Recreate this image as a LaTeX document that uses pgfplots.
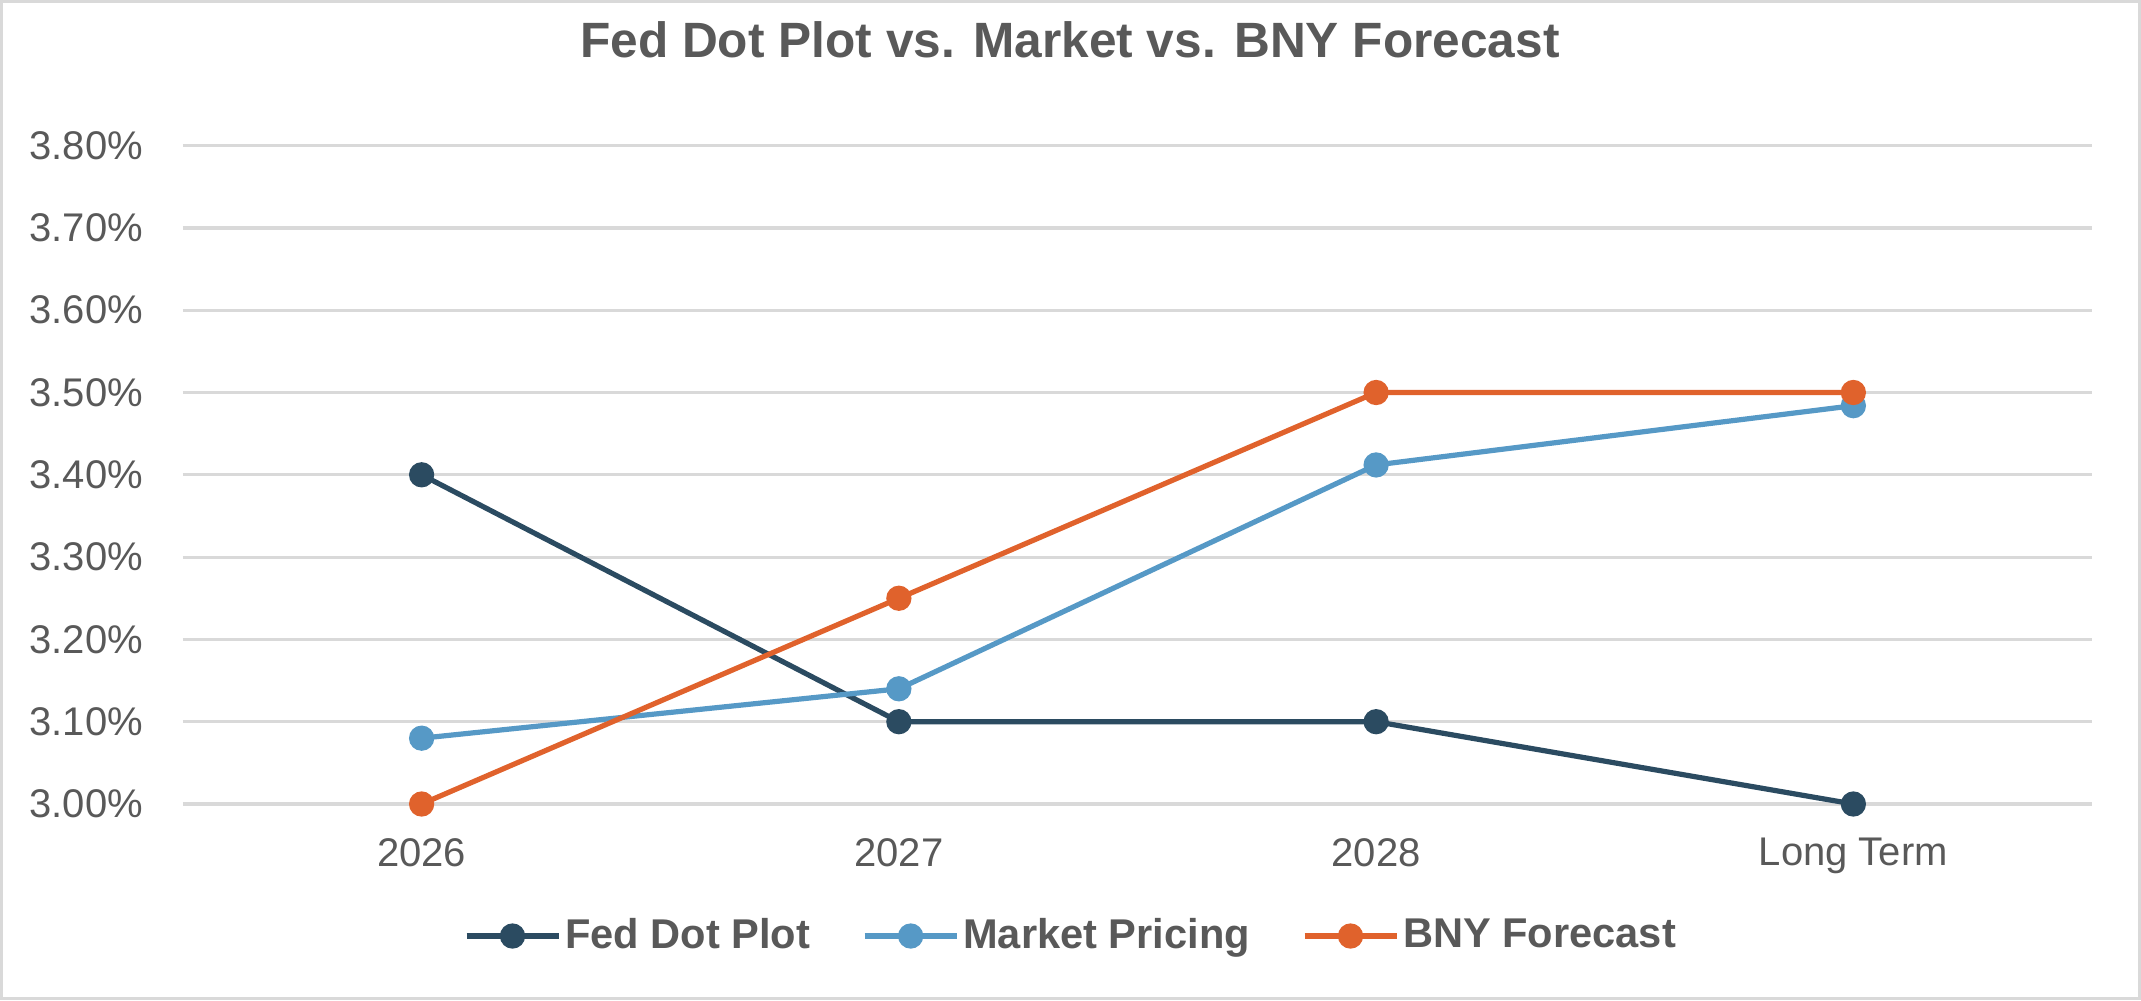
\documentclass[border=0pt]{standalone}
\usepackage{fontspec}
\setmainfont{Liberation Sans}
\usepackage{pgfplots}
\pgfplotsset{compat=1.18}

\definecolor{fedc}{HTML}{2B4B61}
\definecolor{mktc}{HTML}{5699C6}
\definecolor{bnyc}{HTML}{E0622C}
\definecolor{txtc}{HTML}{595959}
\definecolor{gridc}{HTML}{D9D9D9}

\begin{document}
\begin{tikzpicture}
\path[use as bounding box] (-45.75pt,-49pt) rectangle (489.5pt,201pt);
\draw[gridc, line width=0.8pt] (-45.35pt,-48.6pt) rectangle (489.1pt,200.6pt);
\begin{axis}[
    at={(0pt,0pt)}, anchor=south west,
    scale only axis,
    width=477.25pt, height=164.6pt,
    xmin=-0.5, xmax=3.5,
    ymin=3.0, ymax=3.8,
    xtick={0,1,2,3},
    xticklabels={2026,2027,2028,Long Term},
    ytick={3.0,3.1,3.2,3.3,3.4,3.5,3.6,3.7,3.8},
    yticklabel={\pgfmathprintnumber[fixed,fixed zerofill,precision=2]{\tick}\%},
    /pgf/number format/assume math mode=true,
    axis line style={draw=none},
    major tick length=0pt,
    ymajorgrids=true,
    grid style={gridc, line width=0.8pt},
    ticklabel style={font=\fontsize{10}{12}\selectfont, text=txtc},
    yticklabel style={xshift=-6.5pt},
    xticklabel style={yshift=-5pt},
    title={Fed Dot Plot vs. Market vs. BNY Forecast},
    title style={font=\fontsize{12.4}{14}\selectfont\bfseries, text=txtc,
        at={(0.5,1)}, anchor=center, xshift=-16.9pt, yshift=20.4pt},
    legend columns=3,
    legend style={draw=none, at={(0.4667,-0.2005)}, anchor=center,
        font=\fontsize{10.4}{12}\selectfont\bfseries, text=txtc,
        /tikz/every even column/.append style={column sep=11pt},
        /tikz/every odd column/.append style={column sep=-1pt},
        inner sep=0pt},
    legend image code/.code={%
        \draw[#1, mark repeat=2, mark phase=2] plot coordinates {(0pt,0pt) (11.5pt,0pt) (23pt,0pt)};},
    every axis plot/.append style={line width=1.3pt, mark=*, mark size=2.5pt},
    clip=false,
]
\addplot[fedc, mark options={fill=fedc}] coordinates {(0,3.40) (1,3.10) (2,3.10) (3,3.00)};
\addlegendentry{Fed Dot Plot}
\addplot[mktc, mark options={fill=mktc}] coordinates {(0,3.08) (1,3.14) (2,3.412) (3,3.484)};
\addlegendentry{Market Pricing}
\addplot[bnyc, mark options={fill=bnyc}] coordinates {(0,3.00) (1,3.25) (2,3.50) (3,3.50)};
\addlegendentry{BNY Forecast}
\end{axis}
\end{tikzpicture}
\end{document}
